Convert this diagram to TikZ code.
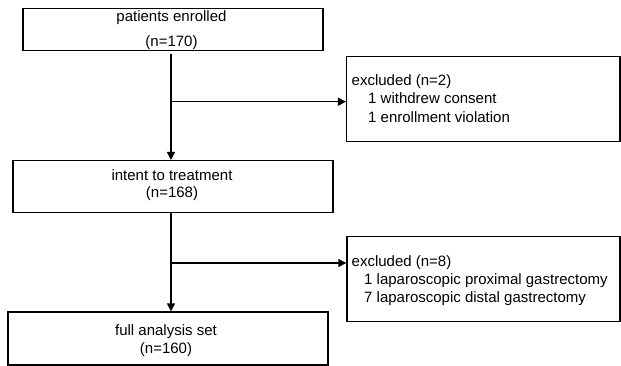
\documentclass[tikz,border=0pt]{standalone}
\usepackage{fontspec}
\setmainfont{Liberation Sans}
\usetikzlibrary{arrows.meta}
\begin{document}
\begin{tikzpicture}[x=1pt,y=-1pt, line width=1.4pt,
  txt/.style={font=\fontsize{15}{17}\selectfont, inner sep=0pt},
  ctr/.style={txt, anchor=base},
  lft/.style={txt, anchor=base west},
  box/.style={draw, inner sep=0pt},
  arr/.style={-{Triangle[length=8pt,width=8pt]}}]
\useasboundingbox[fill=white] (0,0) rectangle (621,366);
% main boxes
\node[box, minimum width=300pt, minimum height=42.4pt] (b1) at (173,29.5) {};
\node[box, minimum width=320pt, minimum height=52pt] (b2) at (173,186.7) {};
\node[box, minimum width=320pt, minimum height=53pt] (b3) at (168,338.5) {};
\node[ctr] (b1a) at (171.5,21.9) {patients enrolled};
\node[ctr] (b1b) at (171.5,46.6) {(n=170)};
\node[ctr] (b2a) at (172,180.8) {intent to treatment};
\node[ctr] (b2b) at (172,197.8) {(n=168)};
\node[ctr] (b3a) at (166,335.6) {full analysis set};
\node[ctr] (b3b) at (166,353.8) {(n=160)};
% excluded boxes
\node[box, minimum width=273.3pt, minimum height=85pt] (e1) at (483.3,99.2) {};
\node[box, minimum width=273pt, minimum height=85pt] (e2) at (483.5,279.2) {};
\node[lft] (e1a) at (351,85.6) {excluded (n=2)};
\node[lft] (e1b) at (367.5,103.9) {1 withdrew consent};
\node[lft] (e1c) at (367.5,122.2) {1 enrollment violation};
\node[lft] (e2a) at (351,266.2) {excluded (n=8)};
\node[lft] (e2b) at (363.5,284.6) {1 laparoscopic proximal gastrectomy};
\node[lft] (e2c) at (363.5,302.2) {7 laparoscopic distal gastrectomy};
% connectors
\coordinate (s) at (171,0);
\coordinate (j1) at (171,101.7);
\coordinate (j2) at (171,263);
\draw[arr, shorten <=3pt] (b1.south -| s) -- (b2.north -| s);
\draw[arr] (b2.south -| s) -- (b3.north -| s);
\draw[arr] (j1) -- (j1 -| e1.west);
\draw[arr] (j2) -- (j2 -| e2.west);
\end{tikzpicture}
\end{document}
